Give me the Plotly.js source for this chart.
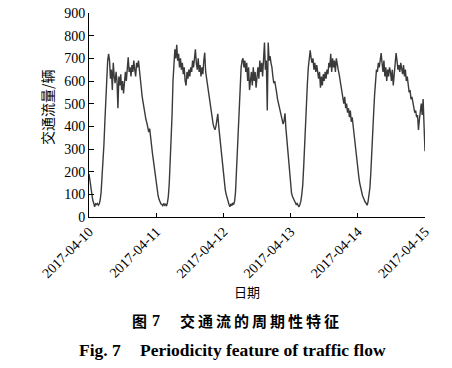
<!DOCTYPE html>
<html>
<head>
<meta charset="utf-8">
<script src="https://cdn.plot.ly/plotly-3.0.1.min.js"></script>
<style>html,body{margin:0;padding:0;background:#fff;}#chart{width:452px;height:368px;}</style>
</head>
<body>
<div id="chart"></div>
<script>
// Traffic flow (vehicles), 20-minute samples
const day1 = [190,160,120, 95,75,62, 45,58,55, 60,52,58, 75,110,170, 240,320,420, 530,620,690, 720,690,610,
  650,560,680, 620,590,640, 600,480,620, 580,630,560, 600,545,610, 640,600,680, 705,640,660, 620,670,640,
  690,650,620, 680,660,690, 640,600,570, 530,500,470, 450,430,415, 400,375,390, 345,320,280, 250,215,175];
const day2 = [140,115,95, 78,66,58, 55,50,60, 52,58,48, 62,90,150, 230,330,450, 600,680,740, 700,760,690,
  720,660,700, 650,680,630, 660,600,580, 640,610,650, 620,660,640, 690,660,700, 740,680,650, 700,640,670,
  620,660,630, 690,725,640, 610,590,560, 530,500,470, 440,410,395, 385,400,430, 455,400,360, 300,260,220];
const day3 = [190,150,120, 100,80,60, 55,45,58, 50,62,55, 70,110,200, 300,400,500, 590,660,690, 700,660,690,
  640,680,600, 660,560,620, 640,580,660, 600,640,570, 620,660,610, 690,640,680, 620,700,770, 650,690,470,
  770,690,710, 680,660,620, 590,600,560, 550,520,500, 490,470,440, 430,410,425, 457,390,340, 280,220,170];
const day4 = [130,105,90, 80,70,62, 55,60,50, 45,55,70, 100,140,220, 330,420,500, 590,660,720, 735,700,680,
  700,650,680, 640,670,620, 610,640,570, 620,580,630, 600,640,610, 650,630,680, 660,720,640, 700,660,690,
  640,700,660, 650,630,600, 580,560,520, 500,530,480, 500,460,480, 440,470,420, 440,400,350, 310,280,240];
const day5 = [220,180,150, 125,105,95, 85,72,65, 60,52,68, 95,130,200, 270,360,460, 540,620,650, 640,680,660,
  700,723,680, 640,690,620, 660,600,650, 620,660,640, 600,650,580, 640,680,723, 690,650,670, 640,680,660,
  630,670,620, 650,600,620, 580,550,560, 520,530,500, 480,460,470, 440,450,384, 430,470,500, 450,520,400];
const lastValue = [290];

const startDate = '2017-04-10';
const stepMinutes = 20;
const xTickVals = ['2017-04-10','2017-04-11','2017-04-12','2017-04-13','2017-04-14','2017-04-15'];
const xTickText = ['2017-04-10','2017-04-11','2017-04-12','2017-04-13','2017-04-14','2017-04-15'];
const yTickVals = [0,100,200,300,400,500,600,700,800,900];
const yTickText = ['0','100','200','300','400','500','600','700','800','900'];

const flow = [].concat(day1, day2, day3, day4, day5, lastValue);
const t0 = Date.parse(startDate + 'T00:00:00Z');
const times = flow.map((_, i) => new Date(t0 + i * stepMinutes * 60000).toISOString().slice(0,16).replace('T',' '));

const W = 452, H = 368, L = 89, R = 27, T = 13, B = 151;
const pw = W - L - R, ph = H - T - B;
const px = v => (v - L) / pw;
const py = v => (H - B - v) / ph;

const serif = 'Liberation Serif, Times New Roman, serif';
const cjk = 'Noto Sans CJK SC, sans-serif';

const trace = {
  x: times, y: flow, type: 'scatter', mode: 'lines',
  line: {color: '#3a3a3a', width: 1.4}, hoverinfo: 'skip'
};

const layout = {
  width: W, height: H,
  margin: {l: L, r: R, t: T, b: B, pad: 0},
  paper_bgcolor: '#fff', plot_bgcolor: '#fff',
  showlegend: false,
  xaxis: {
    type: 'date', range: ['2017-04-10', '2017-04-15'],
    tickmode: 'array', tickvals: xTickVals, ticktext: xTickText,
    tickangle: -45, ticks: 'inside', ticklen: 4, tickcolor: '#000', tickwidth: 1,
    showline: true, linecolor: '#000', linewidth: 1, mirror: false,
    showgrid: false, zeroline: false,
    tickfont: {family: serif, size: 14, color: '#000'}
  },
  yaxis: {
    range: [0, 900], tickmode: 'array', tickvals: yTickVals, ticktext: yTickText,
    ticks: 'inside', ticklen: 5, tickcolor: '#000', tickwidth: 1,
    showline: true, linecolor: '#000', linewidth: 1,
    showgrid: false, zeroline: false,
    tickfont: {family: serif, size: 14, color: '#000'}
  },
  annotations: [
    {text: '交通流量/辆', xref: 'paper', yref: 'paper', x: px(47), y: py(107), textangle: -90,
     showarrow: false, xanchor: 'center', yanchor: 'middle', font: {family: cjk, size: 14, color: '#000'}},
    {text: '日期', xref: 'paper', yref: 'paper', x: px(247), y: py(291),
     showarrow: false, xanchor: 'center', yanchor: 'middle', font: {family: cjk, size: 13, color: '#000'}},
    {text: '<b>图</b>', xref: 'paper', yref: 'paper', x: px(130), y: py(320),
     showarrow: false, xanchor: 'left', yanchor: 'middle', font: {family: cjk, size: 15, color: '#000'}},
    {text: '<b>7</b>', xref: 'paper', yref: 'paper', x: px(150), y: py(320),
     showarrow: false, xanchor: 'left', yanchor: 'middle', font: {family: serif, size: 16, color: '#000'}},
    {text: '<b>交\u2009通\u2009流\u2009的\u2009周\u2009期\u2009性\u2009特\u2009征</b>', xref: 'paper', yref: 'paper', x: px(178), y: py(320),
     showarrow: false, xanchor: 'left', yanchor: 'middle', font: {family: cjk, size: 15, color: '#000'}},
    {text: '<b>Fig. 7</b>', xref: 'paper', yref: 'paper', x: px(77), y: py(350),
     showarrow: false, xanchor: 'left', yanchor: 'middle', font: {family: serif, size: 17.5, color: '#000'}},
    {text: '<b>Periodicity feature of traffic flow</b>', xref: 'paper', yref: 'paper', x: px(138), y: py(350),
     showarrow: false, xanchor: 'left', yanchor: 'middle', font: {family: serif, size: 17.5, color: '#000'}}
  ]
};

Plotly.newPlot('chart', [trace], layout, {staticPlot: true, displayModeBar: false});
</script>
</body>
</html>
